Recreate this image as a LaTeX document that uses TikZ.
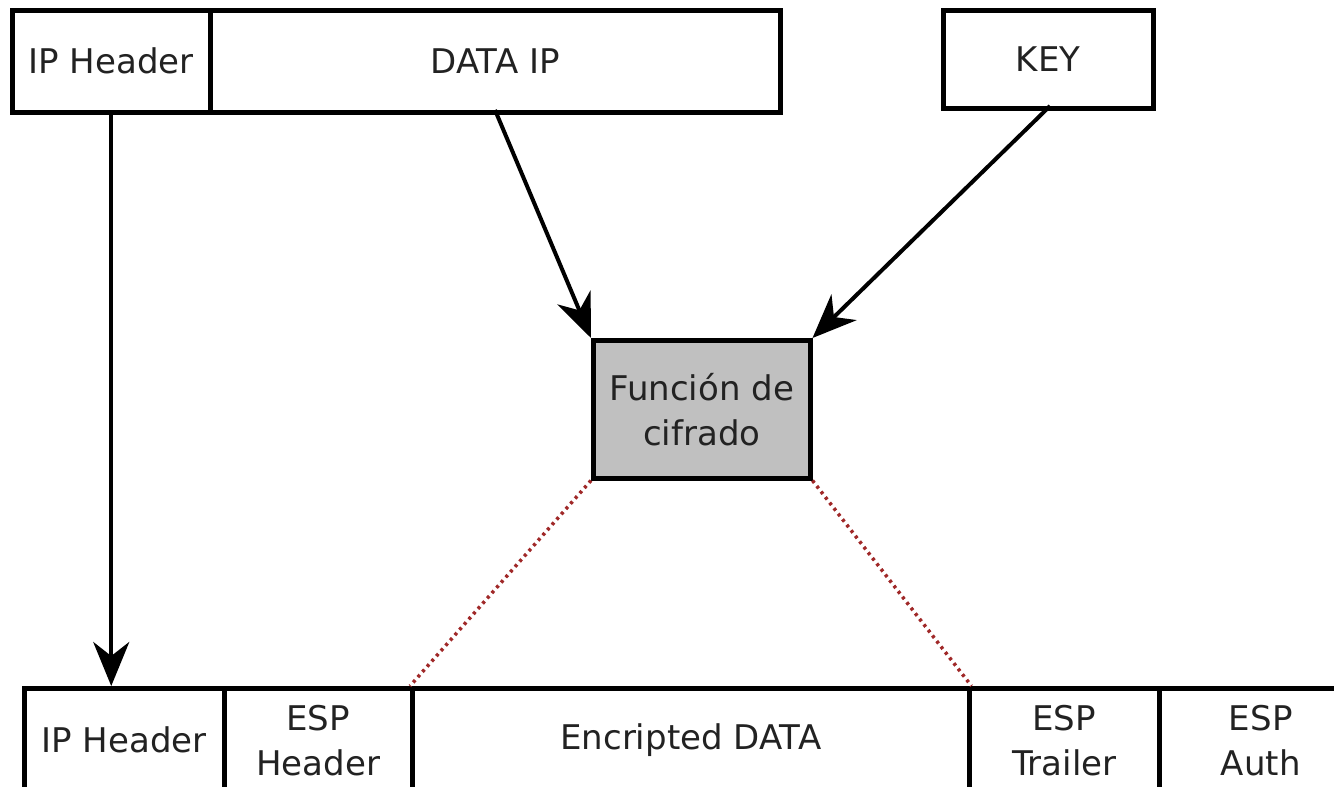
\documentclass[tikz,border=0pt]{standalone}
\usepackage{fontspec}
\setmainfont{DejaVu Sans}
\usetikzlibrary{arrows.meta}
\definecolor{ink}{HTML}{222222}
\definecolor{boxgray}{HTML}{C0C0C0}
\definecolor{dotred}{HTML}{A02828}
\begin{document}
\begin{tikzpicture}[x=1pt,y=-1pt,
  cell/.style={draw=black, line width=4.5pt, fill=white, inner sep=0pt, anchor=north west,
    text=ink, align=center, font=\fontsize{34}{45}\selectfont},
  arr/.style={line width=4pt, -{Stealth[length=44pt,width=36pt,inset=14pt]}},
  dots/.style={dotred, line width=3.5pt, dash pattern=on 3pt off 4pt}]
\useasboundingbox (0,0) rectangle (1334,787);
\clip (0,0) rectangle (1334,787);
\fill[white] (0,0) rectangle (1334,787);

% input packet and key
\node[cell, minimum width=198pt, minimum height=102pt] (iph) at (10,8) {IP Header};
\node[cell, minimum width=570pt, minimum height=102pt] (data) at (208,8) {DATA IP};
\node[cell, minimum width=210pt, minimum height=98pt] (key) at (941,8) {KEY};

% cipher function
\node[cell, fill=boxgray, minimum width=217pt, minimum height=138pt] (fun) at (591,338) {Función de\\cifrado};

% output ESP packet
\node[cell, minimum width=200pt, minimum height=104pt] (iph2) at (22,686) {IP Header};
\node[cell, minimum width=188pt, minimum height=104pt] (esph) at (222,686) {ESP\\Header};
\node[cell, minimum width=557pt, minimum height=104pt] (enc) at (410,686) {Encripted DATA};
\node[cell, minimum width=190pt, minimum height=104pt] (espt) at (967,686) {ESP\\Trailer};
\node[cell, minimum width=203pt, minimum height=104pt] (espa) at (1157,686) {ESP\\Auth};

% connectors
\coordinate (dsrc) at (495,110);
\coordinate (ksrc) at (1050,106);
\draw[arr] (iph.south) -- (iph.south |- iph2.north);
\draw[arr] (dsrc) -- (fun.north west);
\draw[arr] (ksrc) -- (fun.north east);
\draw[dots] (fun.south west) -- (enc.north west);
\draw[dots] (fun.south east) -- (enc.north east);
\end{tikzpicture}
\end{document}
